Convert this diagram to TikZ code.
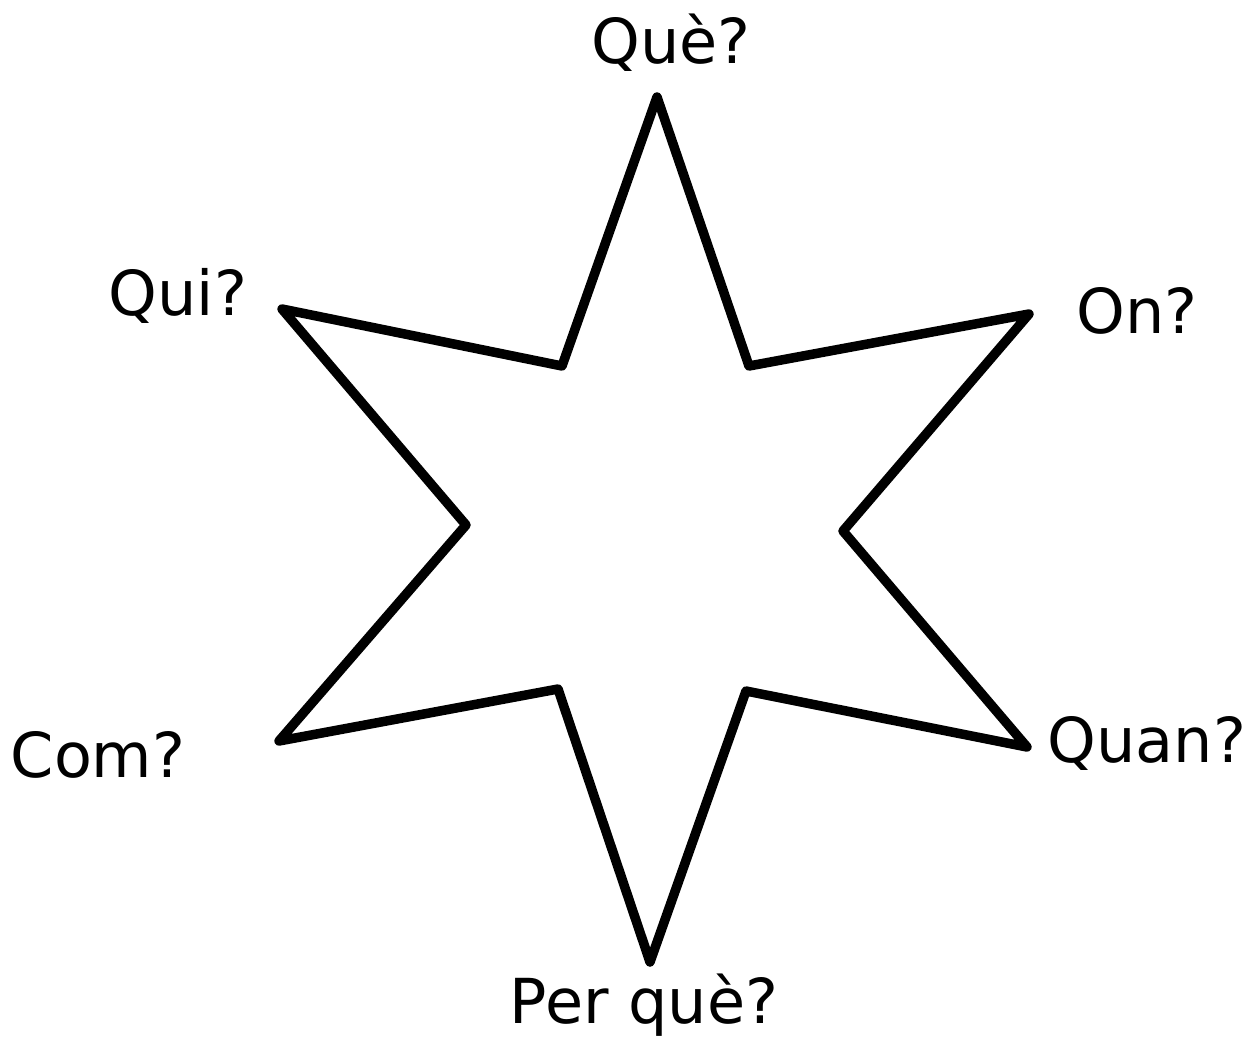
\documentclass[tikz,border=0pt]{standalone}
\usepackage{fontspec}
\setmainfont{DejaVu Sans}
\begin{document}
\begin{tikzpicture}[x=1pt,y=-1pt,
  lbl/.style={anchor=base,inner sep=0pt,font=\fontsize{62}{74}\selectfont},
  starline/.style={draw=black,line width=9.5pt,line join=round,fill=white}]
\useasboundingbox (0,0) rectangle (1256,1042);
% outer points
\coordinate (p1) at (657,97);
\coordinate (p2) at (1029,314);
\coordinate (p3) at (1027,747);
\coordinate (p4) at (650,962);
\coordinate (p5) at (279,741);
\coordinate (p6) at (282,309);
% inner points
\coordinate (i1) at (749,366);
\coordinate (i2) at (843,531);
\coordinate (i3) at (746,691);
\coordinate (i4) at (558,689);
\coordinate (i5) at (466,525);
\coordinate (i6) at (562,366);
\path[starline] (p1) -- (i1) -- (p2) -- (i2) -- (p3) -- (i3) -- (p4) -- (i4) -- (p5) -- (i5) -- (p6) -- (i6) -- cycle;
\node[lbl] (que) at (671,63) {Què?};
\node[lbl] (qui) at (178,315) {Qui?};
\node[lbl] (on) at (1137,333) {On?};
\node[lbl] (com) at (98,777) {Com?};
\node[lbl] (quan) at (1147,762) {Quan?};
\node[lbl] (perque) at (644,1023) {Per què?};
\end{tikzpicture}
\end{document}
